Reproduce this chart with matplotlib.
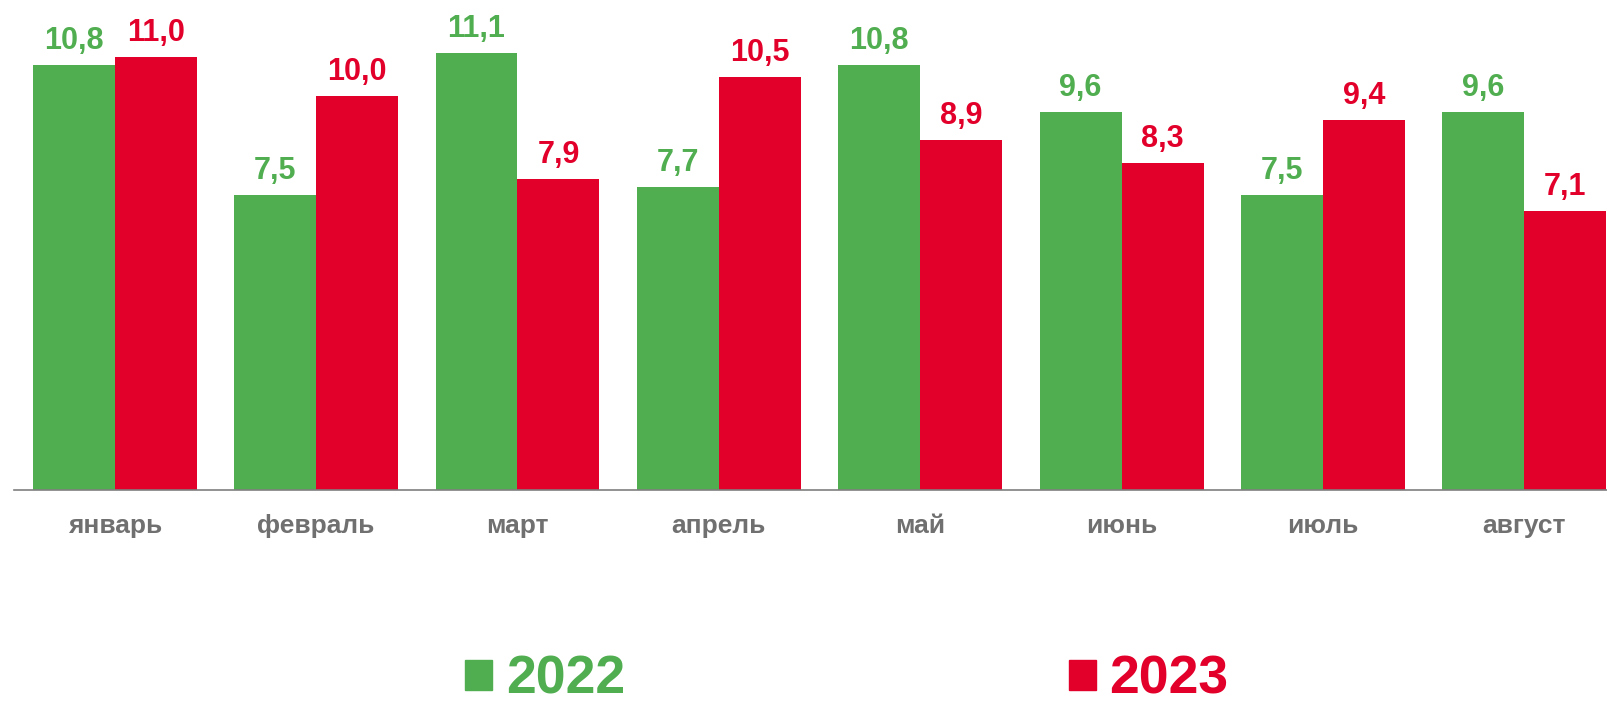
import matplotlib.pyplot as plt
import numpy as np
from matplotlib.patches import Patch

# Datos
months = ['январь', 'февраль', 'март', 'апрель', 'май', 'июнь', 'июль', 'август']
values_2022 = [10.8, 7.5, 11.1, 7.7, 10.8, 9.6, 7.5, 9.6]
values_2023 = [11.0, 10.0, 7.9, 10.5, 8.9, 8.3, 9.4, 7.1]
series_names = ['2022', '2023']

green = '#50AE50'
red = '#E2002B'

plt.rcParams['font.family'] = ['Liberation Sans', 'DejaVu Sans']

fig = plt.figure(figsize=(16.07, 7.01), dpi=100)
ax = fig.add_axes([14 / 1607, 211 / 701, 1 - 14 / 1607, 490 / 701])

x = np.arange(len(months))
w = 0.407

bars1 = ax.bar(x - w / 2, values_2022, width=w, color=green)
bars2 = ax.bar(x + w / 2, values_2023, width=w, color=red)

# Etiquetas de valores con coma decimal
ax.bar_label(bars1, labels=[f'{v:.1f}'.replace('.', ',') for v in values_2022],
             padding=6.5, fontsize=22, fontweight='bold', color=green)
ax.bar_label(bars2, labels=[f'{v:.1f}'.replace('.', ',') for v in values_2023],
             padding=6.5, fontsize=22, fontweight='bold', color=red)

ax.set_xlim(-0.5, 7.41)
ax.set_ylim(0, 12.45)

ax.set_xticks(x)
ax.set_xticklabels(months, fontsize=19, fontweight='bold', color='#707070')
ax.tick_params(axis='x', length=0, pad=17)
ax.set_yticks([])

for s in ['top', 'left', 'right']:
    ax.spines[s].set_visible(False)
ax.spines['bottom'].set_color('#7f7f7f')
ax.spines['bottom'].set_linewidth(1.2)

# Leyenda
handles = [Patch(color=green), Patch(color=red)]
leg = fig.legend(handles, series_names, loc='center', bbox_to_anchor=(0.527, 0.03),
                 ncol=2, frameon=False, prop={'size': 38.5, 'weight': 'bold'},
                 handlelength=0.5, handleheight=0.5, handletextpad=0.26,
                 columnspacing=8.3, borderpad=0)
for t, c in zip(leg.get_texts(), [green, red]):
    t.set_color(c)

fig.savefig('out.png', dpi=100)
